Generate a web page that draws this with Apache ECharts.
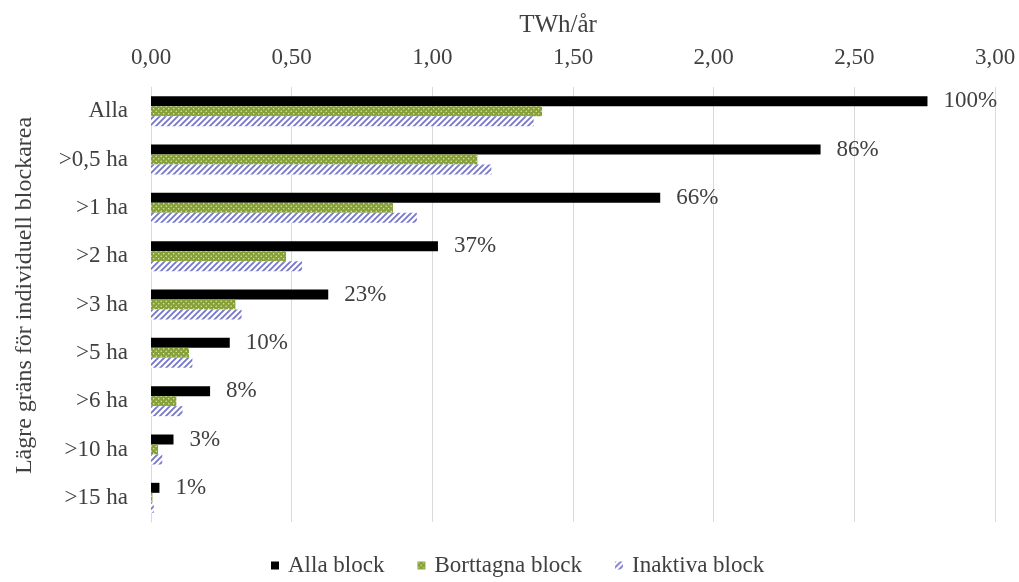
<!DOCTYPE html>
<html>
<head>
<meta charset="utf-8">
<script src="https://cdn.jsdelivr.net/npm/echarts@6/dist/echarts.min.js"></script>
<style>
  html, body { margin: 0; padding: 0; background: #ffffff; }
  #chart { width: 1019px; height: 582px; }
</style>
</head>
<body>
<div id="chart"></div>
<script>
// Lower bound for individual block area
const categories = ['Alla', '>0,5 ha', '>1 ha', '>2 ha', '>3 ha', '>5 ha', '>6 ha', '>10 ha', '>15 ha'];
// Energy potential, TWh/år
const allaBlock = [2.76, 2.38, 1.81, 1.02, 0.63, 0.28, 0.21, 0.08, 0.03];
const borttagnaBlock = [1.39, 1.16, 0.86, 0.48, 0.30, 0.135, 0.09, 0.025, 0.005];
const inaktivaBlock = [1.36, 1.21, 0.945, 0.537, 0.322, 0.147, 0.112, 0.04, 0.01];
// Share of "Alla" shown next to the black bars
const shareLabels = ['100%', '86%', '66%', '37%', '23%', '10%', '8%', '3%', '1%'];
const xTicks = { min: 0, max: 3, interval: 0.5 };

const FONT = '"Liberation Serif", "DejaVu Serif", serif';
const TEXT = '#404040';

function dotPattern() {
  const c = document.createElement('canvas');
  c.width = 5; c.height = 5;
  const g = c.getContext('2d');
  g.fillStyle = '#86a03a';
  g.fillRect(0, 0, 5, 5);
  g.fillStyle = '#e6eea8';
  g.beginPath(); g.arc(1.2, 1.2, 0.75, 0, Math.PI * 2); g.fill();
  g.beginPath(); g.arc(3.7, 3.7, 0.75, 0, Math.PI * 2); g.fill();
  return { image: c, repeat: 'repeat' };
}

function hatchPattern() {
  const c = document.createElement('canvas');
  c.width = 6; c.height = 6;
  const g = c.getContext('2d');
  g.fillStyle = '#ffffff';
  g.fillRect(0, 0, 6, 6);
  g.strokeStyle = '#7676cc';
  g.lineWidth = 1.8;
  g.beginPath();
  g.moveTo(-1, 7); g.lineTo(7, -1);
  g.moveTo(-4, 4); g.lineTo(4, -4);
  g.moveTo(2, 10); g.lineTo(10, 2);
  g.stroke();
  return { image: c, repeat: 'repeat' };
}

const chart = echarts.init(document.getElementById('chart'), null, { renderer: 'canvas' });

chart.setOption({
  backgroundColor: '#ffffff',
  animation: false,
  title: {
    text: 'TWh/år',
    left: 553,
    top: 8,
    textAlign: 'center',
    textStyle: { fontFamily: FONT, fontSize: 25, fontWeight: 'normal', color: TEXT }
  },
  legend: {
    bottom: 0,
    left: 266,
    itemWidth: 8,
    itemHeight: 8,
    itemGap: 33,
    icon: 'rect',
    textStyle: { fontFamily: FONT, fontSize: 23, color: TEXT, padding: [0, 0, 0, 4] },
    data: ['Alla block', 'Borttagna block', 'Inaktiva block']
  },
  grid: { left: 151, right: 24, top: 87, bottom: 60, containLabel: false },
  xAxis: {
    type: 'value',
    position: 'top',
    min: xTicks.min,
    max: xTicks.max,
    interval: xTicks.interval,
    axisLine: { show: false },
    axisTick: { show: false },
    axisLabel: {
      margin: 18,
      fontFamily: FONT,
      fontSize: 23,
      color: TEXT,
      formatter: v => v.toFixed(2).replace('.', ',')
    },
    splitLine: { show: true, lineStyle: { color: '#d9d9d9', width: 1 } }
  },
  yAxis: {
    type: 'category',
    inverse: true,
    data: categories,
    name: 'Lägre gräns för individuell blockarea',
    nameLocation: 'middle',
    nameGap: 114,
    nameRotate: 90,
    nameTextStyle: { fontFamily: FONT, fontSize: 24, color: TEXT, padding: [0, 0, 0, 18] },
    axisLine: { show: true, lineStyle: { color: '#d9d9d9' } },
    axisTick: { show: false },
    axisLabel: { margin: 23, fontFamily: FONT, fontSize: 23, color: TEXT }
  },
  series: [
    {
      name: 'Alla block',
      type: 'bar',
      data: allaBlock,
      barWidth: 10,
      barGap: '0%',
      itemStyle: { color: '#000000' },
      label: {
        show: true,
        position: 'right',
        distance: 16,
        fontFamily: FONT,
        fontSize: 23,
        color: TEXT,
        formatter: p => shareLabels[p.dataIndex]
      }
    },
    {
      name: 'Borttagna block',
      type: 'bar',
      data: borttagnaBlock,
      barWidth: 10,
      barGap: '0%',
      itemStyle: { color: dotPattern() }
    },
    {
      name: 'Inaktiva block',
      type: 'bar',
      data: inaktivaBlock,
      barWidth: 10,
      barGap: '0%',
      itemStyle: { color: hatchPattern() }
    }
  ]
});
</script>
</body>
</html>
